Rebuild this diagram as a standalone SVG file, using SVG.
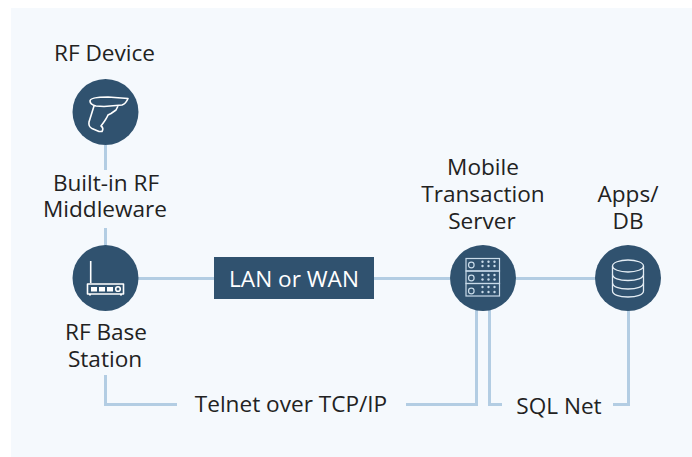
<svg xmlns="http://www.w3.org/2000/svg" width="692" height="457" viewBox="0 0 692 457">
<style>
.t{font-family:"Open Sans","Noto Sans",sans-serif;font-size:22.600px;fill:#222;text-anchor:middle}
.c{fill:none;stroke:#b3cde3;stroke-width:3}
.n{fill:#30526f}
.i{fill:none;stroke:#fff;stroke-width:1.600;stroke-linejoin:round}
.s{fill:none;stroke:#c9dbe9;stroke-width:1.200}
.d{fill:#c9dbe9}
</style>
<rect width="692" height="457" fill="#fff"/>
<rect x="11" y="8" width="681" height="449" fill="#f5f9fd"/>
<g id="connectors">
<path class="c" d="M105.500 145V170M105.500 228V246"/>
<path class="c" d="M138 278.500H214M374 278.500H450M516 278.500H596"/>
<path class="c" d="M105.500 375V404.500H177M406 404.500H476.500V310"/>
<path class="c" d="M489.500 310V404.500H502M613 404.500H628.500V310"/>
</g>
<g id="rf-device">
<text class="t" x="104.500" y="61">RF Device</text>
<circle class="n" cx="105.500" cy="112" r="33"/>
<path class="i" d="M90 101C90 98 96 97 108 97L128 98.500C127 101 125 104 122 105L104 106.500L96 106C92 105 90 103 90 101ZM94 106L89 122C88.500 125 89 127 92 128.500L99 131.500L102 131.500C103.500 129 102.500 127 101 126C104 122 107 118 108 115L111 113.500L116 110L118 106"/>
</g>
<g id="built-in-rf-middleware">
<text class="t" x="106" y="191">Built-in RF</text>
<text class="t" x="105" y="217">Middleware</text>
</g>
<g id="rf-base-station">
<circle class="n" cx="105.500" cy="278" r="33"/>
<path d="M90.700 261V283" stroke="#fff" stroke-width="1.600" fill="none"/>
<rect class="i" x="87.500" y="284" width="36" height="10"/>
<rect x="91" y="287" width="6" height="4.500" fill="#fff"/>
<rect x="99" y="287" width="6" height="4.500" fill="#fff"/>
<rect x="107" y="287" width="6" height="4.500" fill="#fff"/>
<circle class="i" cx="118" cy="289" r="2.300"/>
<path d="M90 294V295.500M121 294V295.500" stroke="#fff" stroke-width="2"/>
<text class="t" x="106" y="340">RF Base</text>
<text class="t" x="105" y="367">Station</text>
</g>
<g id="lan-or-wan">
<rect class="n" x="214" y="257" width="160" height="42"/>
<text class="t" x="294" y="286.500" style="fill:#fff">LAN or WAN</text>
</g>
<g id="mobile-transaction-server">
<text class="t" x="483" y="175">Mobile</text>
<text class="t" x="483" y="202">Transaction</text>
<text class="t" x="482" y="229">Server</text>
<circle class="n" cx="483" cy="278" r="33"/>
<rect class="s" x="466" y="258.500" width="33.500" height="12.500"/>
<rect class="s" x="466" y="271" width="33.500" height="12.500"/>
<rect class="s" x="466" y="283.500" width="33.500" height="12.500"/>
<circle class="s" cx="471.300" cy="265" r="2.800"/>
<circle class="s" cx="471.300" cy="278" r="2.800"/>
<circle class="s" cx="471.300" cy="291" r="2.800"/>
<g class="d">
<circle cx="482.500" cy="261.800" r="1.200"/><circle cx="488.500" cy="261.800" r="1.200"/><circle cx="494.500" cy="261.800" r="1.200"/>
<circle cx="482.500" cy="266" r="1.200"/><circle cx="488.500" cy="266" r="1.200"/><circle cx="494.500" cy="266" r="1.200"/>
<circle cx="482.500" cy="275" r="1.200"/><circle cx="488.500" cy="275" r="1.200"/><circle cx="494.500" cy="275" r="1.200"/>
<circle cx="482.500" cy="279.500" r="1.200"/><circle cx="488.500" cy="279.500" r="1.200"/><circle cx="494.500" cy="279.500" r="1.200"/>
<circle cx="482.500" cy="287" r="1.200"/><circle cx="488.500" cy="287" r="1.200"/><circle cx="494.500" cy="287" r="1.200"/>
<circle cx="482.500" cy="292" r="1.200"/><circle cx="488.500" cy="292" r="1.200"/><circle cx="494.500" cy="292" r="1.200"/>
</g>
</g>
<g id="apps-db">
<text class="t" x="628" y="202">Apps/</text>
<text class="t" x="628" y="229">DB</text>
<circle class="n" cx="628" cy="278" r="33"/>
<g fill="none" stroke="#e4edf4" stroke-width="1.300">
<ellipse cx="628" cy="266" rx="15.500" ry="6"/>
<path d="M612.500 266V291C612.500 294.500 619 297 628 297S643.500 294.500 643.500 291V266"/>
<path d="M612.500 274.500C612.500 278 619 280.500 628 280.500S643.500 278 643.500 274.500"/>
<path d="M612.500 283C612.500 286.500 619 289 628 289S643.500 286.500 643.500 283"/>
</g>
</g>
<g id="labels">
<text class="t" x="291" y="412">Telnet over TCP/IP</text>
<text class="t" x="559" y="414">SQL Net</text>
</g>
</svg>
